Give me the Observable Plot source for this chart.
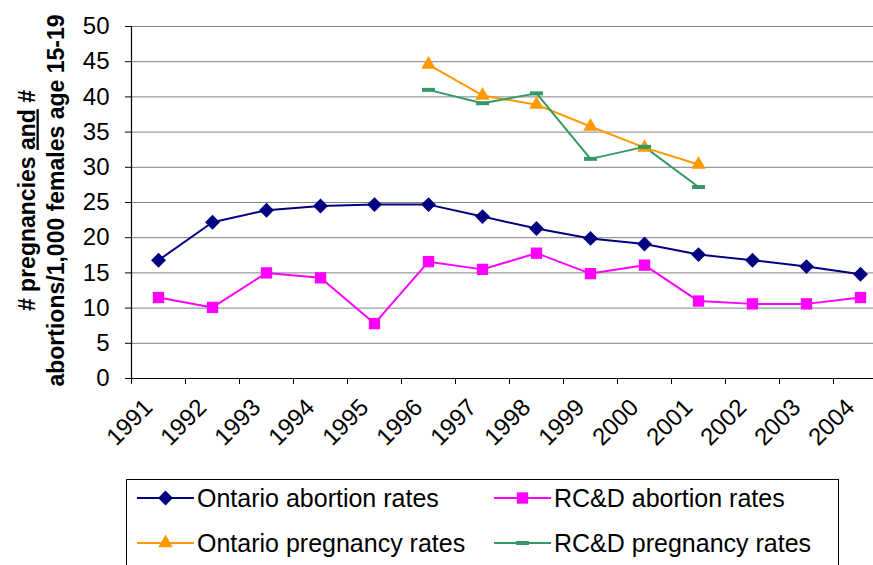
<!DOCTYPE html>
<html><head><meta charset="utf-8">
<script src="https://cdn.jsdelivr.net/npm/d3@7"></script>
<script src="https://cdn.jsdelivr.net/npm/@observablehq/plot@0.6"></script>
<style>
body{margin:0;background:#fff;overflow:hidden;font-family:Arial,"Liberation Sans",sans-serif;}
#wrap{position:relative;width:873px;height:565px;overflow:hidden;background:#fff;}
#legend{position:absolute;left:126px;top:479px;width:713px;height:110px;border:1px solid #000;box-sizing:border-box;background:#fff;}
.item{position:absolute;height:30px;font-size:25px;color:#000;white-space:nowrap;display:flex;align-items:center;}
.item svg{margin-right:3px;}
</style></head><body><div id="wrap"><div id="legend"></div></div>
<script>
// ---- data ----
const years = [1991,1992,1993,1994,1995,1996,1997,1998,1999,2000,2001,2002,2003,2004];
const ontarioAbortion = [16.8,22.2,23.9,24.5,24.7,24.7,23.0,21.3,19.9,19.1,17.6,16.8,15.9,14.8];
const rcdAbortion = [11.5,10.1,15.0,14.3,7.8,16.6,15.5,17.8,14.9,16.1,11.0,10.6,10.6,11.5];
const pregnancyYears = [1996,1997,1998,1999,2000,2001];
const ontarioPregnancy = [44.6,40.2,38.9,35.8,32.8,30.4];
const rcdPregnancy = [41.0,39.1,40.5,31.2,32.9,27.2];
const yTicks = [0,5,10,15,20,25,30,35,40,45,50];
const seriesNames = ["Ontario abortion rates","RC&D abortion rates","Ontario pregnancy rates","RC&D pregnancy rates"];
const seriesColors = ["#000080","#FF00FF","#FF9900","#339966"];
const yTitle = ["# pregnancies and #","abortions/1,000 females age 15-19"];

// ---- helpers ----
const dash = {draw(ctx){ ctx.rect(-6.5,-2,13,4); }};
const symbols = ["diamond2","square","triangle",dash];
const radii = [6.7,6.4,5.4,5];
const toRows = (xs, vs) => xs.map((x,i)=>({year:x, value:vs[i]}));
const series = [
  toRows(years, ontarioAbortion),
  toRows(years, rcdAbortion),
  toRows(pregnancyYears, ontarioPregnancy),
  toRows(pregnancyYears, rcdPregnancy)
];
const boundaries = [...years.map(y=>y-0.5), years[years.length-1]+0.5];
const font = 'Arial, "Liberation Sans", sans-serif';

const marks = [
  Plot.gridY(yTicks, {stroke:"#808080", strokeOpacity:1, strokeWidth:1}),
  Plot.ruleX([boundaries[0]], {stroke:"#000", strokeWidth:1.2}),
  Plot.ruleY([0], {stroke:"#000", strokeWidth:1.2}),
  Plot.axisY({ticks:yTicks, tickSize:6, tickPadding:16, fontSize:24, label:null, stroke:"#000", fill:"#000", tickFormat:d=>String(d)}),
  Plot.axisX({ticks:boundaries, tickSize:6, label:null, stroke:"#000", tickFormat:()=>""}),
  Plot.axisX({ticks:years, tickSize:0, tickPadding:25, tickRotate:-45, dx:-10, fontSize:24, label:null, fill:"#000", tickFormat:d=>String(d)}),
];
series.forEach((rows,i)=>{
  marks.push(Plot.line(rows, {x:"year", y:"value", stroke:seriesColors[i], strokeWidth:2}));
});
series.forEach((rows,i)=>{
  marks.push(Plot.dot(rows, {x:"year", y:"value", symbol:()=>symbols[i], fill:seriesColors[i], stroke:"none", r:radii[i]}));
});
marks.push(Plot.text([yTitle[0]], {text:d=>d, frameAnchor:"left", textAnchor:"middle", lineAnchor:"bottom", rotate:-90, dx:-97, dy:-2, fontSize:23, fontWeight:"bold", fill:"#000"}));
marks.push(Plot.text([yTitle[1]], {text:d=>d, frameAnchor:"left", textAnchor:"middle", lineAnchor:"bottom", rotate:-90, dx:-68, dy:-2, fontSize:23, fontWeight:"bold", fill:"#000"}));

const H = 475;
const chart = Plot.plot({
  width:873, height:H,
  marginLeft:131, marginRight:0, marginTop:26, marginBottom:H-378,
  style:{fontFamily:font, color:"#000", background:"#fff", overflow:"hidden"},
  x:{type:"linear", domain:[boundaries[0], boundaries[boundaries.length-1]], range:[131,887]},
  y:{domain:[0,50], range:[378,26]},
  symbol:{type:"identity"},
  marks
});
// underline "and" in the first title line
d3.select(chart).selectAll("text").each(function(){
  if (this.textContent === yTitle[0]) {
    const parts = yTitle[0].split(" and ");
    const t = d3.select(this); t.text("");
    t.append("tspan").text(parts[0] + " ");
    t.append("tspan").attr("text-decoration","underline").text("and");
    t.append("tspan").text(" " + parts[1]);
  }
});
document.getElementById("wrap").prepend(chart);

// ---- legend ----
const legend = d3.select("#legend");
const pos = [[10,3],[367,3],[10,48],[367,48]];
seriesNames.forEach((name,i)=>{
  const it = legend.append("div").attr("class","item").style("left",pos[i][0]+"px").style("top",pos[i][1]+"px");
  const s = it.append("svg").attr("width",57).attr("height",30);
  s.append("line").attr("x1",0).attr("x2",57).attr("y1",15).attr("y2",15).attr("stroke",seriesColors[i]).attr("stroke-width",2);
  const sym = typeof symbols[i] === "string" ? ({diamond2:d3.symbolDiamond2, square:d3.symbolSquare, triangle:d3.symbolTriangle})[symbols[i]] : symbols[i];
  s.append("path").attr("transform","translate(28.5,15)").attr("d", d3.symbol(sym, Math.PI*radii[i]*radii[i])()).attr("fill",seriesColors[i]);
  it.append("span").text(name);
});
</script>
</body></html>
